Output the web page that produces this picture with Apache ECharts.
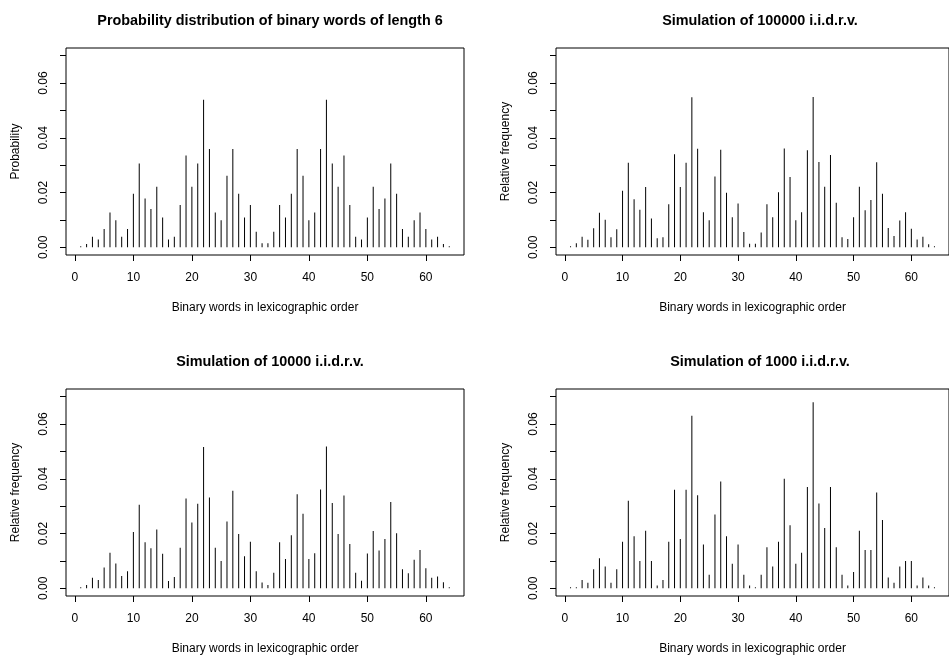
<!DOCTYPE html>
<html>
<head>
<meta charset="utf-8">
<script src="https://cdn.jsdelivr.net/npm/echarts@6/dist/echarts.min.js"></script>
<style>
    html, body { margin: 0; padding: 0; background: #fff; }
    #chart { width: 949px; height: 657px; }
</style>
</head>
<body>
<div id="chart"></div>
<script>
// binary words 1..64 in lexicographic order
const words = [1, 2, 3, 4, 5, 6, 7, 8, 9, 10, 11, 12, 13, 14, 15, 16,
    17, 18, 19, 20, 21, 22, 23, 24, 25, 26, 27, 28, 29, 30, 31, 32,
    33, 34, 35, 36, 37, 38, 39, 40, 41, 42, 43, 44, 45, 46, 47, 48,
    49, 50, 51, 52, 53, 54, 55, 56, 57, 58, 59, 60, 61, 62, 63, 64];

const probTheory = [0.0003, 0.0012, 0.0039, 0.0029, 0.0067, 0.0127, 0.0099, 0.0039,
    0.0067, 0.0196, 0.0306, 0.0178, 0.0140, 0.0221, 0.0109, 0.0029,
    0.0039, 0.0155, 0.0335, 0.0221, 0.0306, 0.0539, 0.0359, 0.0127,
    0.0099, 0.0261, 0.0359, 0.0196, 0.0109, 0.0155, 0.0057, 0.0015,
    0.0015, 0.0057, 0.0155, 0.0109, 0.0196, 0.0359, 0.0261, 0.0099,
    0.0127, 0.0359, 0.0539, 0.0306, 0.0221, 0.0335, 0.0155, 0.0039,
    0.0029, 0.0109, 0.0221, 0.0140, 0.0178, 0.0306, 0.0196, 0.0067,
    0.0039, 0.0099, 0.0127, 0.0067, 0.0029, 0.0039, 0.0012, 0.0003];

const freq100000 = [0.0002, 0.0015, 0.0039, 0.0028, 0.0070, 0.0126, 0.0101, 0.0037,
    0.0066, 0.0207, 0.0309, 0.0176, 0.0137, 0.0220, 0.0105, 0.0033,
    0.0037, 0.0157, 0.0340, 0.0220, 0.0309, 0.0548, 0.0360, 0.0128,
    0.0099, 0.0259, 0.0356, 0.0199, 0.0110, 0.0160, 0.0056, 0.0013,
    0.0013, 0.0054, 0.0157, 0.0110, 0.0201, 0.0361, 0.0257, 0.0099,
    0.0128, 0.0355, 0.0549, 0.0312, 0.0221, 0.0337, 0.0163, 0.0037,
    0.0030, 0.0110, 0.0221, 0.0135, 0.0173, 0.0311, 0.0196, 0.0071,
    0.0041, 0.0098, 0.0128, 0.0068, 0.0029, 0.0039, 0.0011, 0.0004];

const freq10000 = [0.0004, 0.0012, 0.0039, 0.0030, 0.0076, 0.0130, 0.0091, 0.0045,
    0.0062, 0.0206, 0.0305, 0.0168, 0.0146, 0.0215, 0.0126, 0.0027,
    0.0041, 0.0148, 0.0328, 0.0240, 0.0309, 0.0516, 0.0332, 0.0148,
    0.0100, 0.0244, 0.0356, 0.0198, 0.0117, 0.0170, 0.0062, 0.0021,
    0.0012, 0.0057, 0.0168, 0.0107, 0.0194, 0.0344, 0.0272, 0.0107,
    0.0128, 0.0361, 0.0518, 0.0312, 0.0198, 0.0339, 0.0162, 0.0057,
    0.0028, 0.0127, 0.0209, 0.0138, 0.0180, 0.0315, 0.0201, 0.0070,
    0.0055, 0.0104, 0.0140, 0.0073, 0.0039, 0.0043, 0.0022, 0.0002];

const freq1000 = [0.000, 0.000, 0.003, 0.002, 0.007, 0.011, 0.008, 0.002,
    0.007, 0.017, 0.032, 0.019, 0.010, 0.021, 0.010, 0.001,
    0.003, 0.017, 0.036, 0.018, 0.036, 0.063, 0.034, 0.016,
    0.005, 0.027, 0.039, 0.019, 0.009, 0.016, 0.005, 0.001,
    0.000, 0.005, 0.015, 0.008, 0.017, 0.040, 0.023, 0.009,
    0.013, 0.037, 0.068, 0.031, 0.022, 0.037, 0.015, 0.005,
    0.001, 0.006, 0.021, 0.014, 0.014, 0.035, 0.025, 0.004,
    0.002, 0.008, 0.010, 0.010, 0.001, 0.004, 0.001, 0.000];

const xTicks = [0, 10, 20, 30, 40, 50, 60];
const yTicks = [0, 0.01, 0.02, 0.03, 0.04, 0.05, 0.06, 0.07];
const yLabels = [0, 0.02, 0.04, 0.06];

const panels = [
    { title: 'Probability distribution of binary words of length 6', yName: 'Probability', values: probTheory },
    { title: 'Simulation of 100000 i.i.d.r.v.', yName: 'Relative frequency', values: freq100000 },
    { title: 'Simulation of 10000 i.i.d.r.v.', yName: 'Relative frequency', values: freq10000 },
    { title: 'Simulation of 1000 i.i.d.r.v.', yName: 'Relative frequency', values: freq1000 }
];

// plot boxes (R's plot region), right column runs past the page edge
const boxes = [
    { left: 66, top: 48 },
    { left: 556, top: 48 },
    { left: 66, top: 389 },
    { left: 556, top: 389 }
];
const boxW = 398, boxH = 207;
const font = 'Liberation Sans, Arial, Helvetica, sans-serif';

var myChart = echarts.init(document.getElementById('chart'), null, { renderer: 'canvas' });

var option = {
    backgroundColor: '#fff',
    animation: false,
    textStyle: { fontFamily: font },
    title: [],
    grid: [],
    xAxis: [],
    yAxis: [],
    series: []
};

panels.forEach(function (p, i) {
    var b = boxes[i];
    option.title.push({
        text: p.title,
        left: b.left + boxW / 2,
        top: b.top - 39,
        textAlign: 'center',
        textStyle: { fontFamily: font, fontSize: 14.4, fontWeight: 'bold', color: '#000' }
    });
    option.grid.push({
        left: b.left,
        top: b.top,
        width: boxW,
        height: boxH,
        show: true,
        borderColor: '#000',
        borderWidth: 1,
        backgroundColor: 'transparent'
    });
    option.xAxis.push({
        type: 'value',
        gridIndex: i,
        min: -1.52,
        max: 66.52,
        name: 'Binary words in lexicographic order',
        nameLocation: 'middle',
        nameGap: 47,
        nameTextStyle: { fontFamily: font, fontSize: 12, color: '#000' },
        axisLine: { show: false, onZero: false },
        axisTick: { show: true, inside: false, length: 6, customValues: xTicks, lineStyle: { color: '#000' } },
        axisLabel: { customValues: xTicks, margin: 17, fontFamily: font, fontSize: 12, color: '#000' },
        splitLine: { show: false }
    });
    option.yAxis.push({
        type: 'value',
        gridIndex: i,
        min: -0.0028,
        max: 0.0728,
        name: p.yName,
        nameLocation: 'middle',
        nameGap: 44,
        nameTextStyle: { fontFamily: font, fontSize: 12, color: '#000' },
        axisLine: { show: false, onZero: false },
        axisTick: { show: true, inside: false, length: 6, customValues: yTicks, lineStyle: { color: '#000' } },
        axisLabel: {
            customValues: yLabels,
            rotate: 90,
            margin: 16,
            fontFamily: font,
            fontSize: 12,
            color: '#000',
            formatter: function (v) { return v.toFixed(2); }
        },
        splitLine: { show: false }
    });
    option.series.push({
        type: 'bar',
        xAxisIndex: i,
        yAxisIndex: i,
        barWidth: 1,
        barMinHeight: 1,
        itemStyle: { color: '#000' },
        data: words.map(function (w, k) { return [w, p.values[k]]; })
    });
});

myChart.setOption(option);
</script>
</body>
</html>
